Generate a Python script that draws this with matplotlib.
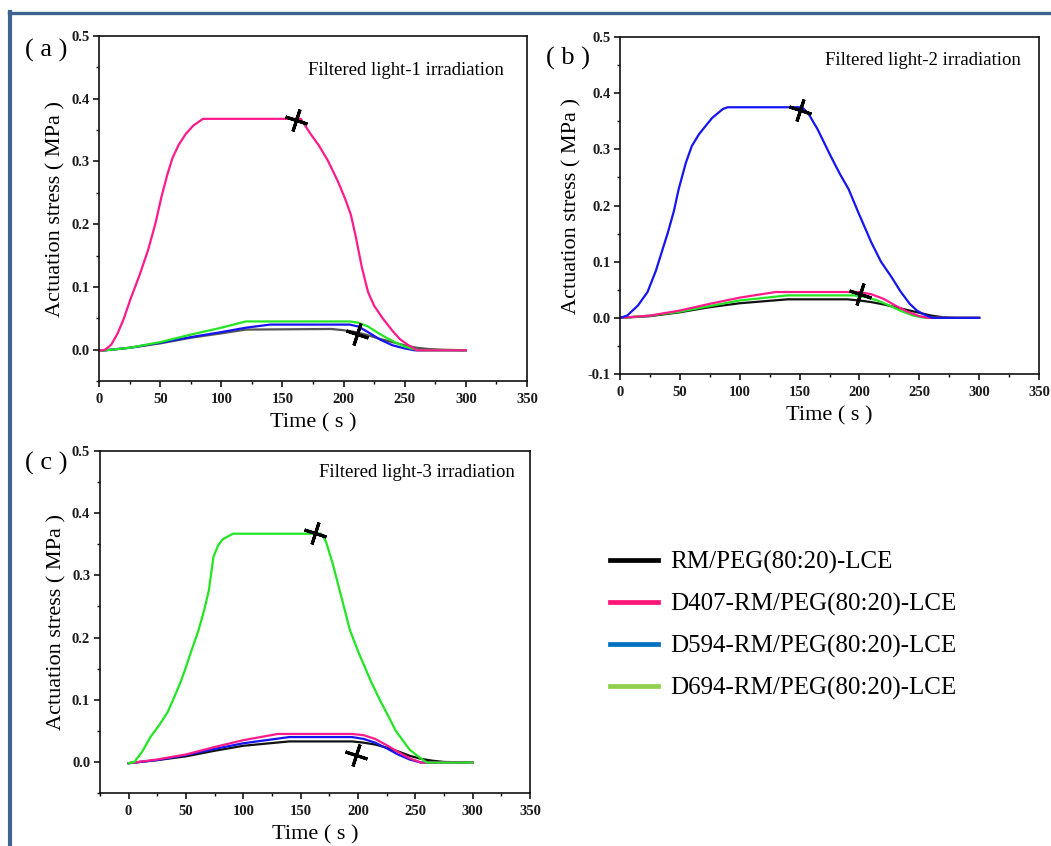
import numpy as np
import matplotlib
matplotlib.use('Agg')
import matplotlib.pyplot as plt
from matplotlib.lines import Line2D
from matplotlib.ticker import MultipleLocator

plt.rcParams['font.family'] = ['Liberation Serif', 'DejaVu Serif']

# ---- data ----
labels = ['RM/PEG(80:20)-LCE', 'D407-RM/PEG(80:20)-LCE',
          'D594-RM/PEG(80:20)-LCE', 'D694-RM/PEG(80:20)-LCE']

# panel (a): filtered light-1
a_black_t = [0, 25, 50, 75, 100, 120, 190, 200, 210, 220, 230, 240, 250, 260, 270, 280, 300]
a_black_y = [-0.002, 0.003, 0.010, 0.019, 0.026, 0.032, 0.033, 0.031, 0.028, 0.023, 0.017, 0.012, 0.007, 0.003, 0.001, 0.0, -0.001]
a_pink_t = [0, 5, 10, 15, 20, 26, 33, 40, 46, 51, 56, 60, 65, 71, 77, 85, 165, 173, 180, 187, 195,
            201, 206, 210, 215, 220, 225, 232, 240, 246, 252, 260, 300]
a_pink_y = [-0.002, 0.0, 0.008, 0.025, 0.048, 0.082, 0.118, 0.158, 0.2, 0.243, 0.28, 0.305, 0.326,
            0.344, 0.357, 0.368, 0.368, 0.344, 0.325, 0.302, 0.27, 0.242, 0.215, 0.18, 0.131, 0.092,
            0.07, 0.05, 0.030, 0.017, 0.0085, -0.001, -0.001]
a_blue_t = [0, 25, 50, 75, 100, 120, 140, 205, 212, 220, 230, 240, 250, 258, 300]
a_blue_y = [-0.002, 0.003, 0.011, 0.020, 0.028, 0.035, 0.040, 0.040, 0.037, 0.028, 0.016, 0.007, 0.002, -0.001, -0.001]
a_green_t = [0, 25, 50, 75, 100, 120, 205, 212, 220, 228, 235, 243, 250, 257, 262, 300]
a_green_y = [-0.002, 0.003, 0.012, 0.024, 0.035, 0.045, 0.045, 0.043, 0.037, 0.027, 0.019, 0.011, 0.005, 0.001, -0.001, -0.001]
a_mark_t = [161.5, 211]
a_mark_y = [0.366, 0.0245]

# panel (b): filtered light-2
b_black_t = [0, 25, 50, 75, 100, 140, 190, 200, 210, 220, 230, 240, 250, 260, 270, 280, 300]
b_black_y = [0, 0.003, 0.010, 0.019, 0.026, 0.033, 0.033, 0.031, 0.028, 0.024, 0.019, 0.014, 0.009, 0.004, 0.001, 0.0, 0.0]
b_pink_t = [0, 25, 50, 75, 100, 130, 200, 210, 220, 230, 240, 250, 258, 300]
b_pink_y = [0, 0.004, 0.013, 0.025, 0.036, 0.046, 0.046, 0.042, 0.034, 0.022, 0.011, 0.003, 0.0, 0.0]
b_blue_t = [0, 6, 15, 23, 30, 35, 40, 45, 49, 55, 60, 66, 72, 77, 86, 90, 152, 157, 165, 176,
            184, 191, 199, 210, 218, 227, 234, 242, 248, 253, 261, 300]
b_blue_y = [0, 0.004, 0.022, 0.046, 0.084, 0.118, 0.152, 0.19, 0.229, 0.276, 0.306, 0.327, 0.343,
            0.356, 0.372, 0.375, 0.375, 0.365, 0.336, 0.288, 0.255, 0.229, 0.188, 0.134, 0.1, 0.072,
            0.048, 0.025, 0.013, 0.007, 0.0, 0.0]
b_green_t = [0, 25, 50, 75, 100, 140, 195, 205, 215, 225, 235, 245, 255, 300]
b_green_y = [0, 0.004, 0.011, 0.021, 0.031, 0.040, 0.040, 0.037, 0.031, 0.022, 0.012, 0.004, 0.0, 0.0]
b_mark_t = [150.4, 200.5]
b_mark_y = [0.371, 0.0426]

# panel (c): filtered light-3
c_black_t = [0, 25, 50, 75, 100, 140, 195, 205, 215, 225, 235, 245, 255, 265, 275, 300]
c_black_y = [-0.002, 0.003, 0.009, 0.018, 0.026, 0.033, 0.033, 0.031, 0.028, 0.023, 0.017, 0.010, 0.005, 0.002, 0.0, -0.001]
c_pink_t = [0, 25, 50, 75, 100, 130, 195, 205, 215, 225, 235, 245, 255, 300]
c_pink_y = [-0.002, 0.004, 0.012, 0.024, 0.035, 0.045, 0.045, 0.043, 0.037, 0.027, 0.016, 0.006, -0.001, -0.001]
c_blue_t = [0, 25, 50, 75, 100, 140, 195, 205, 215, 225, 235, 245, 255, 300]
c_blue_y = [-0.002, 0.003, 0.011, 0.021, 0.030, 0.040, 0.040, 0.037, 0.031, 0.022, 0.012, 0.004, -0.001, -0.001]
c_green_t = [0, 5, 12, 19, 27, 34, 40, 45, 49, 55, 61, 66, 70, 74, 78, 82, 91, 168, 172, 178, 187,
             193, 201, 211, 219, 227, 233, 239, 245, 251, 260, 300]
c_green_y = [-0.002, 0.0, 0.017, 0.04, 0.06, 0.08, 0.105, 0.127, 0.147, 0.18, 0.212, 0.245,
             0.276, 0.33, 0.348, 0.358, 0.367, 0.367, 0.355, 0.319, 0.255, 0.212, 0.174, 0.131,
             0.1, 0.072, 0.05, 0.035, 0.02, 0.011, -0.001, -0.001]
c_mark_t = [162.3, 198]
c_mark_y = [0.368, 0.011]

panel_tags = ['( a )', '( b )', '( c )']
panel_notes = ['Filtered light-1 irradiation', 'Filtered light-2 irradiation',
               'Filtered light-3 irradiation']

# ---- styling ----
c_black = '#111111'
c_pink = '#FF1A8C'
c_blue = '#1515F0'
c_green = '#22E622'
leg_colors = ['#000000', '#FF1478', '#0070C0', '#92D050']

fig = plt.figure(figsize=(10.51, 8.46), dpi=100)

ax_a = fig.add_axes([0.0942, 0.5496, 0.4072, 0.4078])
ax_b = fig.add_axes([0.5899, 0.5579, 0.3987, 0.3983])
ax_c = fig.add_axes([0.0951, 0.0626, 0.4091, 0.4043])

lw = 1.6
# (a) black drawn first, then blue, green, pink on top
ax_a.plot(a_black_t, a_black_y, color='#555555', lw=lw)
ax_a.plot(a_blue_t, a_blue_y, color=c_blue, lw=lw)
ax_a.plot(a_green_t, a_green_y, color=c_green, lw=lw)
ax_a.plot(a_pink_t, a_pink_y, color=c_pink, lw=lw)

ax_b.plot(b_black_t, b_black_y, color=c_black, lw=lw)
ax_b.plot(b_green_t, b_green_y, color=c_green, lw=lw)
ax_b.plot(b_pink_t, b_pink_y, color=c_pink, lw=lw)
ax_b.plot(b_blue_t, b_blue_y, color=c_blue, lw=lw)

ax_c.plot(c_black_t, c_black_y, color=c_black, lw=lw)
ax_c.plot(c_blue_t, c_blue_y, color=c_blue, lw=lw)
ax_c.plot(c_pink_t, c_pink_y, color=c_pink, lw=lw)
ax_c.plot(c_green_t, c_green_y, color=c_green, lw=lw)

# the rotated "+" markers
for ax, mt, my in [(ax_a, a_mark_t, a_mark_y), (ax_b, b_mark_t, b_mark_y), (ax_c, c_mark_t, c_mark_y)]:
    ax.plot(mt, my, ls='none', marker=(4, 2, -18), ms=16.5, mew=2.2, color='black', zorder=5)

ax_a.set_xlim(0, 350)
ax_a.set_ylim(-0.05, 0.5)
ax_b.set_xlim(0, 350)
ax_b.set_ylim(-0.1, 0.5)
ax_c.set_xlim(-25, 350)
ax_c.set_ylim(-0.05, 0.5)

note_pos = [(0.947, 0.901), (0.957, 0.929), (0.965, 0.936)]
for i, ax in enumerate([ax_a, ax_b, ax_c]):
    ax.set_xticks(np.arange(0, 351, 50))
    ax.xaxis.set_minor_locator(MultipleLocator(25))
    ax.yaxis.set_major_locator(MultipleLocator(0.1))
    ax.yaxis.set_minor_locator(MultipleLocator(0.05))
    ax.yaxis.set_major_formatter(matplotlib.ticker.FormatStrFormatter('%.1f'))
    ax.tick_params(which='major', direction='out', length=4, width=1.1, pad=3,
                   labelsize=10.5, labelcolor='#1a1a1a', top=False, right=False)
    ax.tick_params(axis='x', which='major', pad=4.5)
    ax.tick_params(which='minor', direction='out', length=2.5, width=1.0, top=False, right=False)
    for lab in ax.get_xticklabels() + ax.get_yticklabels():
        lab.set_fontweight('bold')
    for sp in ax.spines.values():
        sp.set_linewidth(1.2)
        sp.set_color('#111111')
    ax.set_xlabel('Time ( s )', fontsize=16, labelpad=5)
    ax.set_ylabel('Actuation stress ( MPa )', fontsize=16, labelpad=4)
    ax.text(note_pos[i][0], note_pos[i][1], panel_notes[i], transform=ax.transAxes,
            ha='right', va='center', fontsize=13.5)

fig.text(46 / 1051, 1 - 50 / 846, panel_tags[0], ha='center', va='center', fontsize=19)
fig.text(568 / 1051, 1 - 58 / 846, panel_tags[1], ha='center', va='center', fontsize=19)
fig.text(46 / 1051, 1 - 463 / 846, panel_tags[2], ha='center', va='center', fontsize=19)

# legend in the empty bottom-right area
handles = [Line2D([], [], color=c, lw=3.4) for c in leg_colors]
fig.legend(handles, labels, loc='center left', bbox_to_anchor=(0.5804, 0.2605),
           frameon=False, fontsize=18, handlelength=1.92, handletextpad=0.5,
           labelspacing=0.76, borderpad=0, borderaxespad=0)

# blue page frame (top and left edges)
frame_col = '#3F6391'
fig.add_artist(Line2D([9 / 1051, 1], [1 - 13.5 / 846, 1 - 13.5 / 846], color=frame_col, lw=2.4,
                      transform=fig.transFigure))
fig.add_artist(Line2D([10 / 1051, 10 / 1051], [0, 1 - 12 / 846], color=frame_col, lw=3.0,
                      transform=fig.transFigure))

fig.savefig('out.png', dpi=100)
